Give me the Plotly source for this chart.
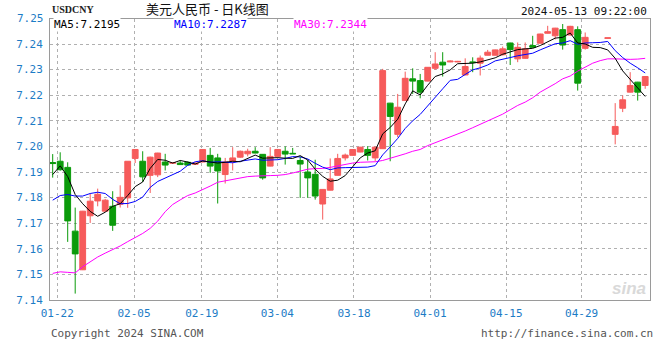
import plotly.graph_objects as go

# ---------------- data ----------------
x_tick_labels = ["01-22", "02-05", "02-19", "03-04", "03-18", "04-01", "04-15", "04-29"]
y_tick_values = [7.14, 7.15, 7.16, 7.17, 7.18, 7.19, 7.20, 7.21, 7.22, 7.23, 7.24, 7.25]

open_ = [7.1937, 7.1942, 7.1918, 7.1669, 7.1518, 7.1729, 7.1787, 7.1747, 7.1766, 7.1774,
         7.1799, 7.1953, 7.1942, 7.1887, 7.1889, 7.1939, 7.1934, 7.1935, 7.1938, 7.1930,
         7.1939, 7.1965, 7.1955, 7.1890, 7.1943, 7.1958, 7.1971, 7.1981, 7.1969, 7.1923,
         7.1961, 7.1981, 7.1973, 7.1945, 7.1900, 7.1891, 7.1775, 7.1829, 7.1887, 7.1955,
         7.1965, 7.1978, 7.1988, 7.1955, 7.1991, 7.2169, 7.2047, 7.2179, 7.2264, 7.2257,
         7.2255, 7.2305, 7.2329, 7.2330, 7.2330, 7.2279, 7.2330, 7.2325, 7.2356, 7.2356,
         7.2358, 7.2404, 7.2342, 7.2344, 7.2394, 7.2403, 7.2442, 7.2432, 7.2456, 7.2435,
         7.2456, 7.2383, None, None, 7.2422, 7.2047, 7.2149, 7.2212, 7.2251, 7.2238]
high = [7.1970, 7.1977, 7.1938, 7.1761, 7.1748, 7.1816, 7.1835, 7.1795, 7.1825, 7.1848,
        7.1942, 7.1988, 7.1981, 7.1960, 7.1975, 7.1971, 7.1938, 7.1945, 7.1941, 7.1936,
        7.1989, 7.1994, 7.1971, 7.1955, 7.1997, 7.1984, 7.1991, 7.1997, 7.1970, 7.1997,
        7.1990, 7.2000, 7.1994, 7.1961, 7.1948, 7.1948, 7.1833, 7.1953, 7.1971, 7.1972,
        7.1989, 7.1998, 7.2001, 7.1998, 7.2303, 7.2170, 7.2205, 7.2292, 7.2305, 7.2283,
        7.2310, 7.2368, 7.2368, 7.2336, 7.2334, 7.2344, 7.2348, 7.2355, 7.2377, 7.2378,
        7.2390, 7.2405, 7.2406, 7.2406, 7.2432, 7.2440, 7.2471, 7.2463, 7.2478, 7.2471,
        7.2469, 7.2445, None, None, 7.2424, 7.2169, 7.2199, 7.2290, 7.2252, 7.2274]
low = [7.1878, 7.1905, 7.1627, 7.1425, 7.1517, 7.1701, 7.1766, 7.1745, 7.1670, 7.1761,
       7.1760, 7.1935, 7.1861, 7.1818, 7.1880, 7.1906, 7.1932, 7.1928, 7.1926, 7.1929,
       7.1938, 7.1897, 7.1777, 7.1855, 7.1906, 7.1955, 7.1961, 7.1973, 7.1870, 7.1922,
       7.1960, 7.1929, 7.1971, 7.1799, 7.1799, 7.1792, 7.1714, 7.1828, 7.1886, 7.1945,
       7.1964, 7.1977, 7.1945, 7.1943, 7.1990, 7.1942, 7.2036, 7.2178, 7.2205, 7.2188,
       7.2254, 7.2299, 7.2273, 7.2329, 7.2329, 7.2278, 7.2290, 7.2277, 7.2355, 7.2355,
       7.2355, 7.2318, 7.2329, 7.2343, 7.2386, 7.2402, 7.2441, 7.2418, 7.2378, 7.2434,
       7.2218, 7.2378, None, None, 7.2422, 7.2008, 7.2134, 7.2211, 7.2179, 7.2225]
close = [7.1933, 7.1909, 7.1709, 7.1580, 7.1747, 7.1786, 7.1813, 7.1790, 7.1692, 7.1801,
         7.1942, 7.1988, 7.1881, 7.1958, 7.1974, 7.1927, 7.1937, 7.1929, 7.1927, 7.1935,
         7.1988, 7.1923, 7.1904, 7.1939, 7.1955, 7.1981, 7.1981, 7.1974, 7.1877, 7.1961,
         7.1988, 7.1970, 7.1971, 7.1931, 7.1877, 7.1806, 7.1832, 7.1873, 7.1953, 7.1966,
         7.1988, 7.1997, 7.1965, 7.1997, 7.2296, 7.2117, 7.2153, 7.2266, 7.2255, 7.2212,
         7.2309, 7.2322, 7.2318, 7.2333, 7.2332, 7.2312, 7.2328, 7.2345, 7.2368, 7.2377,
         7.2381, 7.2378, 7.2387, 7.2381, 7.2387, 7.2439, 7.2448, 7.2462, 7.2396, 7.2469,
         7.2247, 7.2426, None, None, 7.2424, 7.2078, 7.2182, 7.2238, 7.2212, 7.2273]

ma5 = [7.1890, 7.1924, 7.1882, 7.1812, 7.1776, 7.1746, 7.1727, 7.1743, 7.1766, 7.1776,
       7.1808, 7.1843, 7.1861, 7.1914, 7.1949, 7.1946, 7.1935, 7.1945, 7.1939, 7.1931,
       7.1943, 7.1940, 7.1935, 7.1938, 7.1942, 7.1940, 7.1952, 7.1966, 7.1954, 7.1955,
       7.1956, 7.1954, 7.1953, 7.1964, 7.1947, 7.1911, 7.1883, 7.1864, 7.1868, 7.1886,
       7.1922, 7.1955, 7.1974, 7.1983, 7.2049, 7.2074, 7.2106, 7.2166, 7.2217, 7.2201,
       7.2239, 7.2273, 7.2283, 7.2299, 7.2323, 7.2323, 7.2325, 7.2330, 7.2337, 7.2346,
       7.2360, 7.2370, 7.2378, 7.2381, 7.2383, 7.2394, 7.2408, 7.2423, 7.2426, 7.2443,
       7.2404, 7.2400, 7.2387, 7.2386, 7.2377, 7.2344, 7.2295, 7.2263, 7.2227, 7.2195]
ma10 = [7.1790, 7.1808, 7.1812, 7.1806, 7.1806, 7.1816, 7.1821, 7.1816, 7.1793, 7.1776,
        7.1777, 7.1785, 7.1802, 7.1840, 7.1863, 7.1877, 7.1889, 7.1903, 7.1926, 7.1940,
        7.1944, 7.1938, 7.1940, 7.1938, 7.1936, 7.1942, 7.1946, 7.1951, 7.1946, 7.1948,
        7.1948, 7.1953, 7.1960, 7.1959, 7.1951, 7.1934, 7.1919, 7.1909, 7.1916, 7.1917,
        7.1917, 7.1919, 7.1919, 7.1925, 7.1967, 7.1998, 7.2031, 7.2070, 7.2100, 7.2125,
        7.2157, 7.2189, 7.2225, 7.2258, 7.2262, 7.2281, 7.2299, 7.2307, 7.2318, 7.2334,
        7.2342, 7.2347, 7.2354, 7.2359, 7.2364, 7.2377, 7.2389, 7.2401, 7.2404, 7.2413,
        7.2399, 7.2404, 7.2405, 7.2406, 7.2410, 7.2374, 7.2347, 7.2325, 7.2307, 7.2287]
ma30 = [7.1504, 7.1510, 7.1508, 7.1506, 7.1530, 7.1550, 7.1568, 7.1583, 7.1596, 7.1611,
        7.1628, 7.1643, 7.1660, 7.1680, 7.1708, 7.1745, 7.1773, 7.1791, 7.1808, 7.1818,
        7.1830, 7.1845, 7.1860, 7.1866, 7.1871, 7.1876, 7.1882, 7.1884, 7.1886, 7.1886,
        7.1887, 7.1890, 7.1896, 7.1905, 7.1911, 7.1913, 7.1914, 7.1918, 7.1924, 7.1931,
        7.1935, 7.1938, 7.1939, 7.1940, 7.1945, 7.1953, 7.1962, 7.1971, 7.1981, 7.1988,
        7.2003, 7.2014, 7.2026, 7.2036, 7.2047, 7.2060, 7.2073, 7.2086, 7.2099, 7.2112,
        7.2126, 7.2143, 7.2160, 7.2173, 7.2190, 7.2212, 7.2227, 7.2245, 7.2264, 7.2275,
        7.2294, 7.2310, 7.2325, 7.2335, 7.2342, 7.2342, 7.2340, 7.2340, 7.2341, 7.2344]

# ---------------- styling / layout ----------------
W, H = 660, 360
L, R, T, B = 50, 10, 19, 60
PW, PH = W - L - R, H - T - B
RED, GREEN = "#f65b5b", "#0b9b0b"
AXBLUE = "#1c7cc6"
MONO = "DejaVu Sans Mono, Liberation Mono, monospace"
YMIN, YMAX = 7.14, 7.14 + PH / 2560.0
XMIN, XMAX = -0.36, 79.64
# gridline / tick positions along the candle index axis
x_tick_pos = [0.61, 10.84, 19.87, 29.95, 40.17, 50.31, 60.44, 70.53]


def px_x(px):
    return (px - L) / PW


def px_y(py):
    return (T + PH - py) / PH


n = len(close)
idx = [i for i in range(n) if close[i] is not None]

fig = go.Figure()
fig.add_trace(go.Candlestick(
    x=idx,
    open=[open_[i] for i in idx], high=[high[i] for i in idx],
    low=[low[i] for i in idx], close=[close[i] for i in idx],
    increasing=dict(line=dict(color=RED, width=1), fillcolor=RED),
    decreasing=dict(line=dict(color=GREEN, width=1), fillcolor=GREEN),
    whiskerwidth=0, hoverinfo="skip", showlegend=False,
))
for vals, col in ((ma30, "#ff00ff"), (ma10, "#0000ff"), (ma5, "#000000")):
    fig.add_trace(go.Scatter(x=list(range(n)), y=vals, mode="lines",
                             line=dict(color=col, width=1), hoverinfo="skip",
                             showlegend=False))

fig.update_layout(
    width=W, height=H, margin=dict(l=L, r=R, t=T, b=B),
    paper_bgcolor="white", plot_bgcolor="white",
    boxgap=0.12, boxgroupgap=0.12,
    xaxis=dict(range=[XMIN, XMAX], tickmode="array", tickvals=x_tick_pos,
               ticktext=x_tick_labels, showgrid=True, gridcolor="#b0b0b0",
               griddash="dot", gridwidth=1, zeroline=False, showline=True,
               linecolor="#9a9a9a", linewidth=1, mirror=True, ticks="",
               ticklabelstandoff=3,
               tickfont=dict(family=MONO, size=11, color=AXBLUE),
               rangeslider=dict(visible=False), fixedrange=True),
    yaxis=dict(range=[YMIN, YMAX], tickmode="array",
               tickvals=[v for v in y_tick_values if v <= YMAX],
               ticktext=[f"{v:.2f}" for v in y_tick_values if v <= YMAX],
               showgrid=True, gridcolor="#b0b0b0", griddash="dot", gridwidth=1,
               zeroline=False, showline=True, linecolor="#9a9a9a", linewidth=1,
               mirror=True, ticks="", ticklabelstandoff=4,
               tickfont=dict(family=MONO, size=11, color=AXBLUE), fixedrange=True),
    showlegend=False,
)

ann = []
# top tick label that sits above the plot frame
for v in y_tick_values:
    if v > YMAX:
        ann.append(dict(text=f"{v:.2f}", xref="paper", yref="paper",
                        x=px_x(46), y=(v - YMIN) / (YMAX - YMIN),
                        xanchor="right", yanchor="middle", showarrow=False,
                        font=dict(family=MONO, size=11, color=AXBLUE)))
ann.append(dict(text="<b>USDCNY</b>", xref="paper", yref="paper", x=px_x(50), y=px_y(10),
                xanchor="left", yanchor="middle", showarrow=False,
                font=dict(family="Liberation Serif, serif", size=10, color="#222")))
ann.append(dict(text="美元人民币 - 日K线图", xref="paper", yref="paper",
                x=px_x(207), y=px_y(9), xanchor="center", yanchor="middle",
                showarrow=False,
                font=dict(family="Noto Sans CJK SC", size=13, color="#111")))
ann.append(dict(text="2024-05-13 09:22:00", xref="paper", yref="paper",
                x=px_x(649), y=px_y(11), xanchor="right", yanchor="middle",
                showarrow=False, font=dict(family=MONO, size=11, color="#111")))
for name, vals, col, xl in (("MA5", ma5, "#000000", 53), ("MA10", ma10, "#0000ff", 173),
                            ("MA30", ma30, "#ff00ff", 293)):
    ann.append(dict(text=f"{name}:{vals[-1]:.4f}", xref="paper", yref="paper",
                    x=px_x(xl), y=px_y(24), xanchor="left", yanchor="middle",
                    showarrow=False, bgcolor="white", borderpad=0,
                    font=dict(family=MONO, size=11, color=col)))
ann.append(dict(text="Copyright 2024 SINA.COM", xref="paper", yref="paper",
                x=px_x(49), y=px_y(333), xanchor="left", yanchor="middle",
                showarrow=False, font=dict(family=MONO, size=11, color="#555")))
ann.append(dict(text="http://finance.sina.com.cn", xref="paper", yref="paper",
                x=px_x(655), y=px_y(333), xanchor="right", yanchor="middle",
                showarrow=False, font=dict(family=MONO, size=11, color="#555")))
ann.append(dict(text="<b><i>sina</i></b>", xref="paper", yref="paper",
                x=px_x(648), y=px_y(288), xanchor="right", yanchor="middle",
                showarrow=False, font=dict(family="Arial, Liberation Sans", size=17,
                                           color="#d9d9d9")))
fig.update_layout(annotations=ann)

fig.write_html("out.html")
